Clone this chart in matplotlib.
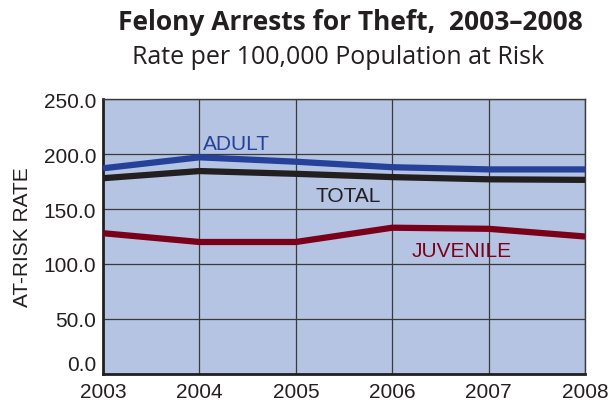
import matplotlib
matplotlib.use("Agg")
import matplotlib.pyplot as plt

years = [2003, 2004, 2005, 2006, 2007, 2008]
adult = [187, 197, 193, 188, 186, 186]
total = [178, 184.5, 182, 179, 177, 176.5]
juvenile = [128, 120, 120, 133, 132, 125]
y_ticks = [0, 50, 100, 150, 200, 250]

plt.rcParams['font.family'] = ['Liberation Sans', 'DejaVu Sans']

fig = plt.figure(figsize=(6.1, 4.02), dpi=100)
ax = fig.add_axes([0.1689, 0.0672, 0.7902, 0.684])
ax.set_facecolor('#b4c4e2')

ax.plot(years, adult, color='#25419a', lw=4.5, solid_capstyle='butt', zorder=3)
ax.plot(years, total, color='#231f20', lw=4.5, solid_capstyle='butt', zorder=3)
ax.plot(years, juvenile, color='#7b0019', lw=4.5, solid_capstyle='butt', zorder=3)

ax.text(2004.04, 204.5, 'ADULT', color='#25419a', fontsize=15)
ax.text(2005.2, 157, 'TOTAL', color='#231f20', fontsize=15)
ax.text(2006.2, 107, 'JUVENILE', color='#7b0019', fontsize=15)

ax.set_xlim(2003, 2008)
ax.set_ylim(0, 250)
ax.set_xticks(years)
ax.set_yticks(y_ticks)
ax.set_yticklabels([f'{v:.1f}' for v in y_ticks])
ax.tick_params(length=0, labelsize=15, colors='#231f20')
ax.tick_params(axis='x', pad=6)
ax.tick_params(axis='y', pad=5)
# lift the 0.0 label off the corner like the original
ax.get_yticklabels()[0].set_verticalalignment('bottom')
ax.grid(True, color='#3a3a3a', lw=0.9)
ax.set_axisbelow(True)
for s in ax.spines.values():
    s.set_color('#3a3a3a')
    s.set_linewidth(1)
ax.spines['left'].set_linewidth(2)
ax.spines['bottom'].set_linewidth(2)
ax.spines['left'].set_color('#231f20')
ax.spines['bottom'].set_color('#231f20')

ax.set_ylabel('AT-RISK RATE', fontsize=15, color='#231f20', labelpad=8)

fig.text(0.575, 0.945, 'Felony Arrests for Theft,  2003\u20132008', ha='center', va='center',
         fontsize=19, fontweight='bold', family='Open Sans', color='#231f20')
fig.text(0.554, 0.857, 'Rate per 100,000 Population at Risk', ha='center', va='center',
         fontsize=18, family='Open Sans', color='#231f20')

fig.savefig('out.png', dpi=100)
